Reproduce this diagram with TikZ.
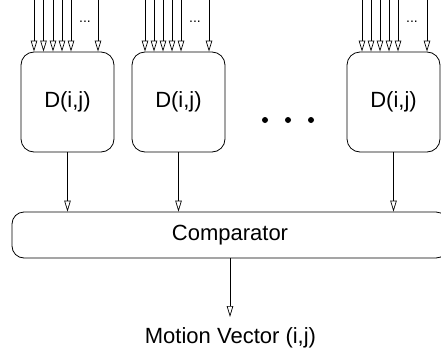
\documentclass[tikz,border=0pt]{standalone}
\usepackage{fontspec}
\setmainfont{Liberation Sans}
\usetikzlibrary{arrows.meta}
\begin{document}
\begin{tikzpicture}[x=1pt,y=-1pt,
  every node/.style={font=\fontsize{22}{26}\selectfont},
  dbox/.style={draw,line width=0.8pt,rounded corners=13pt,minimum width=93pt,minimum height=100pt,inner sep=0pt},
  cbox/.style={draw,line width=0.8pt,rounded corners=12pt,minimum width=436pt,minimum height=46pt,inner sep=0pt},
  arr/.style={line width=0.7pt,-{Triangle[open,length=11pt,width=6.5pt]}},
  smalldots/.style={font=\fontsize{14}{16}\selectfont,inner sep=0pt},
  bigdot/.style={fill=black,draw=none}]
\clip (0,0) rectangle (441,356);
\node[dbox] (D1) at (67.5,102) {D(i,j)};
\node[dbox] (D2) at (178.5,102) {D(i,j)};
\node[dbox] (D3) at (393.5,102) {D(i,j)};
\node[cbox] (C) at (230,235) {Comparator};
\node[inner sep=0pt] (MV) at (230.5,338) {Motion Vector (i,j)};
% inputs
\foreach \x [count=\i] in {34,43.5,53,62,71,98} {
  \coordinate (a\i) at (\x,0);
  \draw[arr] (a\i) -- (a\i |- D1.north);
}
\foreach \x [count=\i] in {145,154,163,172,181,209} {
  \coordinate (b\i) at (\x,0);
  \draw[arr] (b\i) -- (b\i |- D2.north);
}
\foreach \x [count=\i] in {362,371,380,389,398,427} {
  \coordinate (c\i) at (\x,0);
  \draw[arr] (c\i) -- (c\i |- D3.north);
}
\node[smalldots] (e1) at (85,22) {...};
\node[smalldots] (e2) at (195,22) {...};
\node[smalldots] (e3) at (412,22) {...};
% big dots
\fill[bigdot] (265,120) circle (3pt);
\fill[bigdot] (288,120) circle (3pt);
\fill[bigdot] (311,120) circle (3pt);
% outputs
\draw[arr] (D1.south) -- (D1.south |- C.north);
\draw[arr] (D2.south) -- (D2.south |- C.north);
\draw[arr] (D3.south) -- (D3.south |- C.north);
\coordinate (mvtop) at (230,317);
\draw[arr] (C.south -| mvtop) -- (mvtop);
\end{tikzpicture}
\end{document}
